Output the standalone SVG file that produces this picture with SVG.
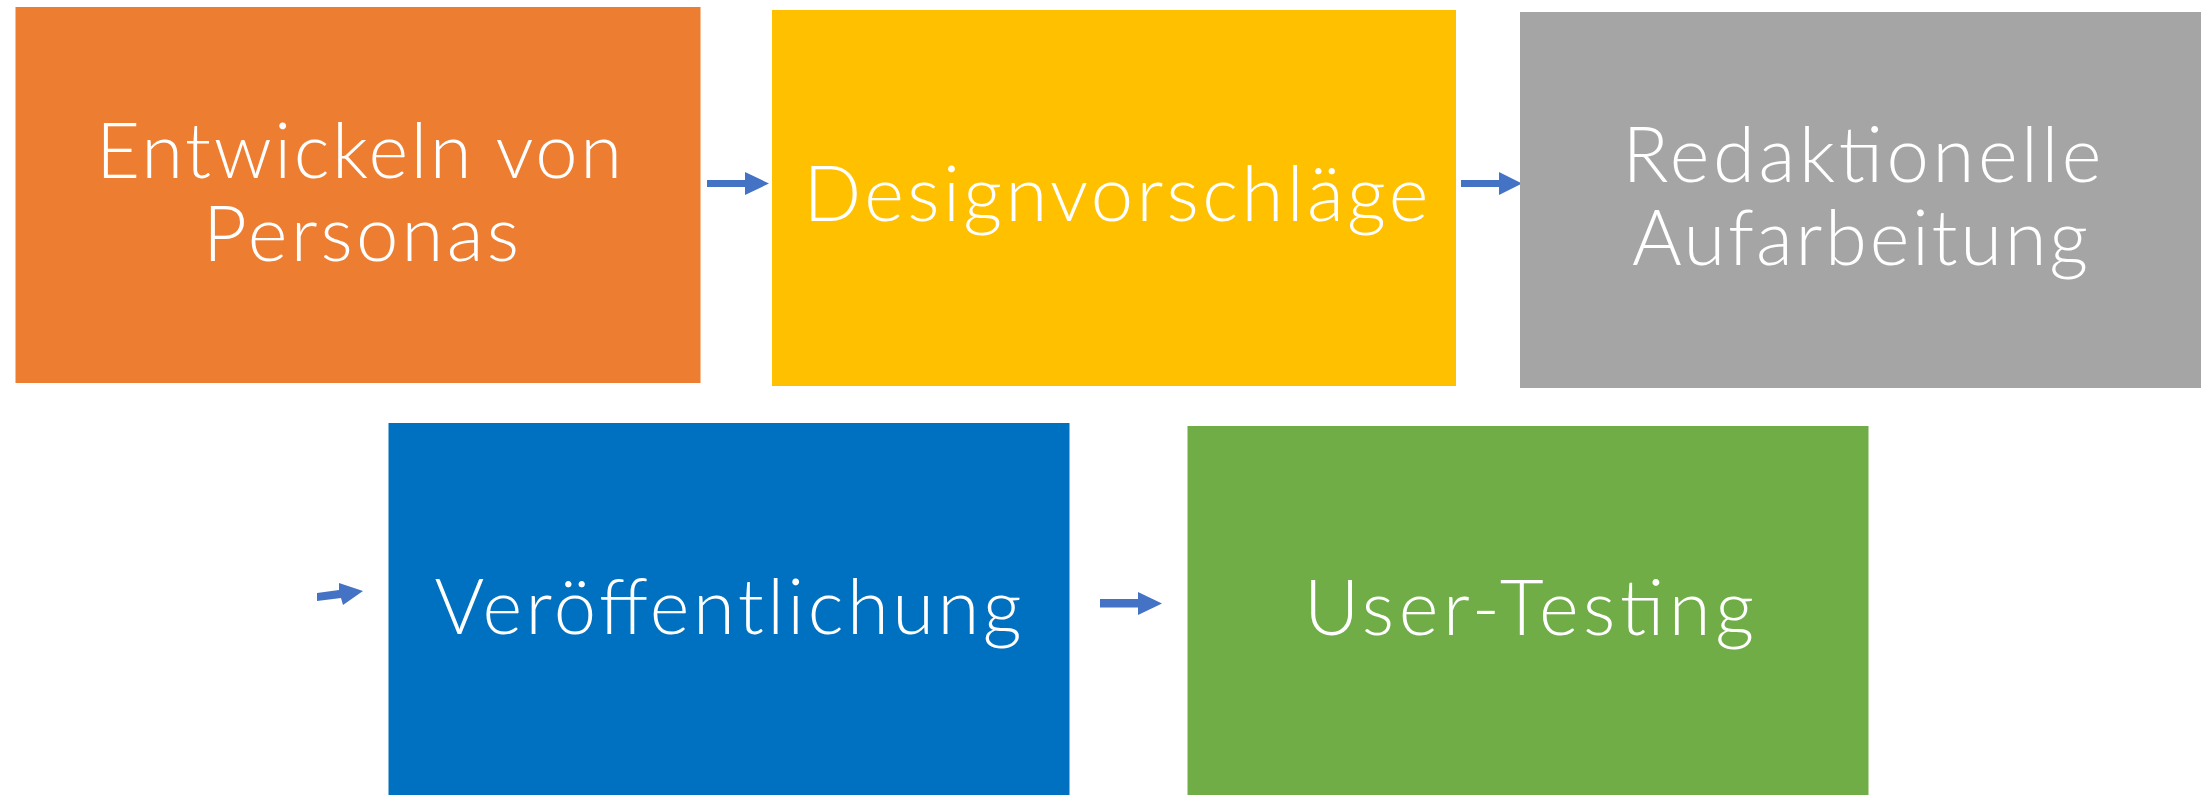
<svg xmlns="http://www.w3.org/2000/svg" width="2209" height="795" viewBox="0 0 2209 795">
<style>
.lbl{font-family:"Lato","Open Sans","Liberation Sans",sans-serif;font-weight:300;font-size:76px;fill:#FFFFFF;text-anchor:middle}
.arr{fill:#4472C4}
</style>
<rect width="2209" height="795" fill="#FFFFFF"/>
<g id="connectors">
<polygon class="arr" points="707,180 745,180 745,172 769,183.5 745,195 745,187 707,187"/>
<polygon class="arr" points="1461,180 1499,180 1499,172 1522,183.5 1499,195 1499,187 1461,187"/>
<polygon class="arr" points="317,593 339,590 339,583 363,591 343,605 341,598 317,601"/>
<polygon class="arr" points="1100,599 1138,599 1138,592 1162,603.5 1138,615 1138,607.5 1100,607.5"/>
</g>
<g id="node-personas">
<rect x="15.5" y="7" width="685" height="376" fill="#ED7D31"/>
<text class="lbl"><tspan x="359" y="178" textLength="526" lengthAdjust="spacing">Entwickeln von</tspan><tspan x="361" y="261" textLength="316" lengthAdjust="spacing">Personas</tspan></text>
</g>
<g id="node-design">
<rect x="772" y="10" width="684" height="376" fill="#FFC000"/>
<text class="lbl" x="1116" y="221" textLength="625" lengthAdjust="spacing">Designvorschläge</text>
</g>
<g id="node-redaktion">
<rect x="1520" y="12" width="681" height="376" fill="#A5A5A5"/>
<text class="lbl"><tspan x="1862" y="182" textLength="479" lengthAdjust="spacing">Redaktionelle</tspan><tspan x="1860" y="265" textLength="456" lengthAdjust="spacing">Aufarbeitung</tspan></text>
</g>
<g id="node-veroeffentlichung">
<rect x="388.5" y="423" width="681" height="372" fill="#0070C0"/>
<text class="lbl" x="728" y="634" textLength="587" lengthAdjust="spacing">Veröffentlichung</text>
</g>
<g id="node-testing">
<rect x="1187.5" y="426" width="681" height="369" fill="#70AD47"/>
<text class="lbl" x="1529" y="635" textLength="450" lengthAdjust="spacing">User-Testing</text>
</g>
</svg>
